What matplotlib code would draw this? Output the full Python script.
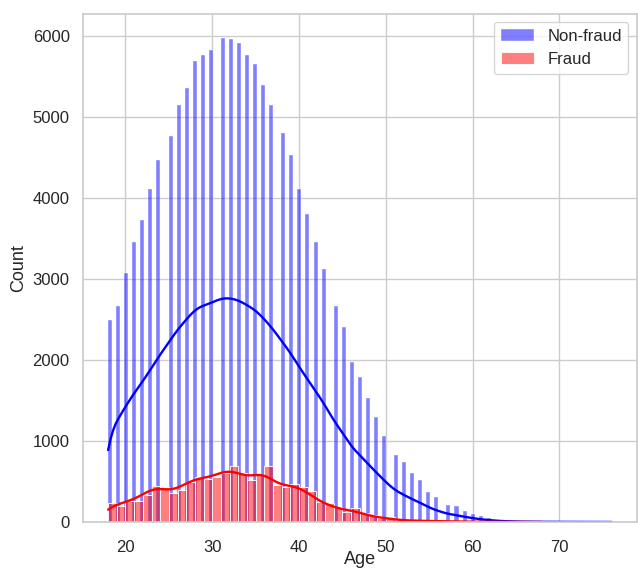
import numpy as np
import matplotlib
matplotlib.use('Agg')
import matplotlib.pyplot as plt
import seaborn as sns

# ── data (counts per age) ────────────────────────────────────────────────────
ages_nonfraud = list(range(18, 77))
counts_nonfraud = [2490, 2660, 3070, 3450, 3720, 4105, 4467, 4763, 5146, 5360,
                   5688, 5762, 5820, 5972, 5956, 5915, 5762, 5647, 5392, 5142,
                   4797, 4525, 4106, 3794, 3449, 3120, 2660, 2408, 1969, 1792,
                   1525, 1291, 1064, 830, 736, 600, 522, 366, 304, 210,
                   193, 140, 99, 70, 49, 28, 18, 12, 8, 6,
                   5, 4, 3, 3, 2, 2, 1, 1, 1]

ages_fraud = list(range(18, 69))
counts_fraud = [238, 198, 260, 260, 330, 447, 436, 354, 395, 488,
                550, 535, 555, 605, 687, 600, 515, 575, 687, 455,
                436, 465, 436, 380, 251, 230, 189, 127, 169, 107,
                86, 45, 58, 25, 20, 18, 15, 12, 10, 8,
                6, 5, 4, 3, 2, 2, 1, 1, 1, 0, 1]

age_nonfraud = np.repeat(ages_nonfraud, counts_nonfraud)
age_fraud = np.repeat(ages_fraud, counts_fraud)

# ── style ────────────────────────────────────────────────────────────────────
sns.set_theme(style='whitegrid')
plt.rcParams['font.family'] = ['Liberation Sans', 'DejaVu Sans']

fig, ax = plt.subplots(figsize=(6.38, 5.73), dpi=100)
fig.subplots_adjust(left=0.130, right=0.998, bottom=0.089, top=0.976)

# ── histograms + kde ─────────────────────────────────────────────────────────
sns.histplot(age_nonfraud, kde=True, color='blue', alpha=0.5,
             label='Non-fraud', ax=ax, line_kws={'linewidth': 1.7})
sns.histplot(age_fraud, kde=True, color='red', alpha=0.5, binwidth=1,
             label='Fraud', ax=ax, line_kws={'linewidth': 1.7})

ax.set_xlabel('Age', fontsize=13, labelpad=-3)
ax.set_ylabel('Count', fontsize=13)
ax.tick_params(labelsize=12)
ax.tick_params(axis='x', pad=7)
ax.legend(loc='upper right', fontsize=12)

fig.savefig('out.png', dpi=100)
